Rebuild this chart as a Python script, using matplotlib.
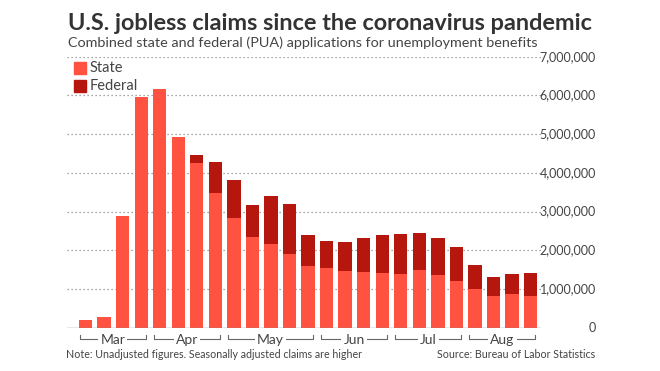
import matplotlib
matplotlib.use("Agg")
import matplotlib.pyplot as plt
import matplotlib.transforms as mtransforms
from matplotlib.patches import Rectangle
import numpy as np

plt.rcParams['font.family'] = ['Lato', 'DejaVu Sans']

# ---- data (weekly initial claims) ----
state = [200000, 270000, 2890000, 5970000, 6170000, 4930000, 4250000, 3490000,
         2840000, 2340000, 2170000, 1900000, 1600000, 1540000, 1460000, 1450000,
         1420000, 1390000, 1500000, 1370000, 1210000, 990000, 830000, 880000, 820000]
federal = [0, 0, 0, 0, 0, 0, 210000, 780000,
           980000, 840000, 1230000, 1300000, 790000, 700000, 750000, 870000,
           980000, 1030000, 950000, 950000, 880000, 630000, 480000, 520000, 590000]
months = ["Mar", "Apr", "May", "Jun", "Jul", "Aug"]
month_counts = [4, 4, 5, 4, 4, 4]
yticks = [0, 1000000, 2000000, 3000000, 4000000, 5000000, 6000000, 7000000]
series_names = ["State", "Federal"]

title = "U.S. jobless claims since the coronavirus pandemic"
subtitle = "Combined state and federal (PUA) applications for unemployment benefits"
note = "Note: Unadjusted figures. Seasonally adjusted claims are higher"
source = "Source: Bureau of Labor Statistics"

C_STATE = "#FF5241"
C_FED = "#B5170E"
TXT = "#444444"

W, H = 660, 371
fig = plt.figure(figsize=(W / 100, H / 100), dpi=100)
ax = fig.add_axes([67 / W, 1 - 327.7 / H, 474 / W, 271 / H])

x = np.arange(len(state))
bw = 0.72
ax.bar(x, state, width=bw, color=C_STATE, linewidth=0, zorder=2)
ax.bar(x, federal, width=bw, bottom=state, color=C_FED, linewidth=0, zorder=2)

ax.set_ylim(0, 7000000)
ax.set_xlim(-1.0, len(state) - 1 + 0.56)

for s in ax.spines.values():
    s.set_visible(False)
ax.set_xticks([])
ax.set_yticks([])

# gridlines
for v in yticks[1:]:
    ax.axhline(v, color="#8a8a8a", lw=0.9, ls=(0, (1, 2.2)), zorder=1)
ax.axhline(0, color="#8a8a8a", lw=1.0, zorder=3)

# y labels on right
ytr = mtransforms.blended_transform_factory(ax.transAxes, ax.transData)
for v in yticks:
    ax.text((596 - 67) / 474, v, f"{v:,}", transform=ytr, ha="right", va="center",
            fontsize=9, color=TXT)

# month brackets
btr = mtransforms.blended_transform_factory(ax.transData, ax.transAxes)
y_line = -(338.7 - 327.7) / 271
y_tick = -(335.3 - 327.7) / 271
y_lab = -(344.3 - 327.7) / 271
start = 0
for m, n in zip(months, month_counts):
    x0 = start - bw / 2 + 0.05
    x1 = start + n - 1 + bw / 2 - 0.1
    ax.plot([x0, x0, x1, x1], [y_tick, y_line, y_line, y_tick], transform=btr,
            color="#666666", lw=0.8, clip_on=False, zorder=1)
    ax.text((x0 + x1) / 2, y_lab, m, transform=btr, ha="center", va="baseline",
            fontsize=10, color=TXT, zorder=5,
            bbox=dict(boxstyle="square,pad=0.15", fc="white", ec="none"))
    start += n

# legend
for i, (name, col) in enumerate(zip(series_names, [C_STATE, C_FED])):
    top = 62.3 + i * 17.2
    fig.patches.append(Rectangle((74 / W, 1 - (top + 12) / H), 12 / W, 12 / H,
                                 transform=fig.transFigure, color=col))
    fig.text(89.5 / W, 1 - (top + 6) / H, name, ha="left", va="center",
             fontsize=10.5, color=TXT)

# titles
fig.text(68 / W, 1 - 30 / H, title, ha="left", va="baseline", fontsize=16.9,
         fontweight="bold", color="#333333")
fig.text(68 / W, 1 - 46.7 / H, subtitle, ha="left", va="baseline", fontsize=10.35,
         color=TXT)
fig.text(66 / W, 1 - 357.7 / H, note, ha="left", va="baseline", fontsize=7.7,
         color=TXT)
fig.text(595 / W, 1 - 357.7 / H, source, ha="right", va="baseline", fontsize=7.7,
         color=TXT)

fig.savefig("out.png", dpi=100)
